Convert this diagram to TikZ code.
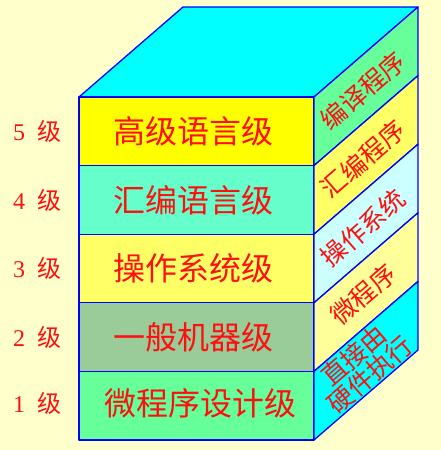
\documentclass[tikz,border=0pt]{standalone}
\usepackage{fontspec}
\setmainfont{Liberation Serif}
\newfontfamily\cjk{Noto Sans CJK SC}
\definecolor{bgc}{HTML}{FFFFCC}
\definecolor{edge}{HTML}{0000FF}
\definecolor{topc}{HTML}{00FFFF}
\definecolor{fa}{HTML}{FFFF00}
\definecolor{fb}{HTML}{66FFCC}
\definecolor{fc}{HTML}{FFFF66}
\definecolor{fd}{HTML}{99CC99}
\definecolor{fe}{HTML}{66FF99}
\definecolor{sa}{HTML}{66FF99}
\definecolor{sb}{HTML}{FFFF66}
\definecolor{sc}{HTML}{CCFFFF}
\definecolor{sd}{HTML}{FFFF99}
\definecolor{se}{HTML}{00FFFF}
\definecolor{txt}{HTML}{FF1010}
\tikzset{
  face/.style={draw=edge, line width=1.3pt, line join=round},
  fronttext/.style={text=txt, font=\cjk\fontsize{32}{36}\selectfont, inner sep=0pt},
  sidetext/.style={text=txt, font=\cjk\fontsize{25.5}{27}\selectfont, inner sep=0pt, rotate=40.9, align=center},
  leveltext/.style={text=txt, font=\fontsize{24}{26}\selectfont, inner sep=0pt}
}
\begin{document}
\begin{tikzpicture}[x=1pt,y=-1pt]
\fill[bgc] (0,0) rectangle (441,450);
\useasboundingbox (0,0) rectangle (441,450);
% top face
\filldraw[face, fill=topc] (79,97) -- (183,7) -- (418,7) -- (314,97) -- cycle;
% front layers
\foreach \c [count=\i from 0] in {fa,fb,fc,fd,fe} {
  \pgfmathsetmacro{\ya}{97+68.6*\i}
  \pgfmathsetmacro{\yb}{97+68.6*(\i+1)}
  \filldraw[face, fill=\c] (79,\ya) rectangle (314,\yb);
}
% side stripes
\foreach \c [count=\i from 0] in {sa,sb,sc,sd,se} {
  \pgfmathsetmacro{\ya}{97+68.6*\i}
  \pgfmathsetmacro{\yb}{97+68.6*(\i+1)}
  \filldraw[face, fill=\c] (314,\ya) -- (418,\ya-90) -- (418,\yb-90) -- (314,\yb) -- cycle;
}
% front texts
\node[fronttext] (f5) at (193,131.3) {高级语言级};
\node[fronttext] (f4) at (193,199.9) {汇编语言级};
\node[fronttext] (f3) at (193,268.5) {操作系统级};
\node[fronttext] (f2) at (193,337.1) {一般机器级};
\node[fronttext] (f1) at (200,403.5) {微程序设计级};
% side texts
\node[sidetext] (s5) at (363,90.5) {编译程序};
\node[sidetext] (s4) at (363,159) {汇编程序};
\node[sidetext] (s3) at (363,228) {操作系统};
\node[sidetext] (s2) at (363,294.5) {微程序};
\node[sidetext, font=\cjk\fontsize{25.5}{25}\selectfont] (s1) at (362,365) {直接由\\硬件执行};
% level labels
\node[leveltext] (l5) at (37,131.3) {5\hspace{0.5em}{\cjk 级}};
\node[leveltext] (l4) at (37,199.9) {4\hspace{0.5em}{\cjk 级}};
\node[leveltext] (l3) at (37,268.5) {3\hspace{0.5em}{\cjk 级}};
\node[leveltext] (l2) at (37,337.1) {2\hspace{0.5em}{\cjk 级}};
\node[leveltext] (l1) at (37,403) {1\hspace{0.5em}{\cjk 级}};
\end{tikzpicture}
\end{document}
